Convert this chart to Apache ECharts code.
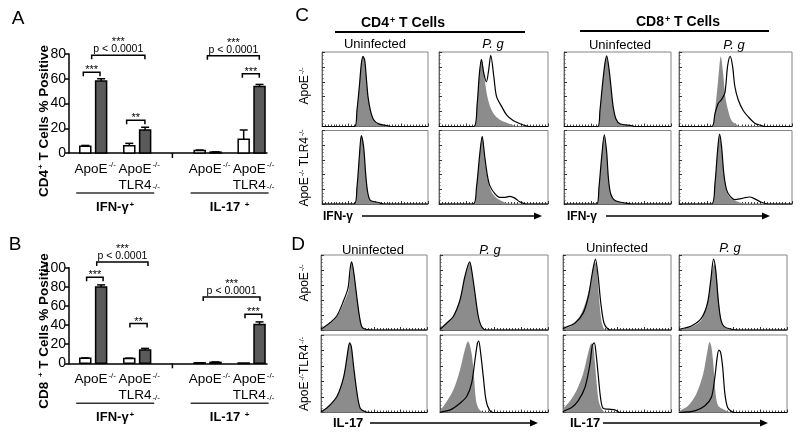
<!DOCTYPE html>
<html><head><meta charset="utf-8">
<script src="https://cdn.jsdelivr.net/npm/echarts@6/dist/echarts.min.js"></script>
<style>html,body{margin:0;padding:0;background:#fff}#c{width:800px;height:441px}</style>
</head><body><div id="c"></div>
<script>
// ================= DATA =================
// Bar charts (A: CD4+, B: CD8+), % positive; order: IFN ApoE, IFN ApoE/TLR4, IL17 ApoE, IL17 ApoE/TLR4
const barCategories = ['ApoE{sup|-/-}', 'ApoE{sup|-/-}\nTLR4{sub|-/-}', 'ApoE{sup|-/-}', 'ApoE{sup|-/-}\nTLR4{sub|-/-}'];
const cytokineGroups = ['IFN-γ{sup|+}', 'IL-17 {sup|+}'];
const cd4Uninfected    = [5.5, 5.8, 2.0, 11.2];
const cd4UninfectedErr = [0.6, 2.0, 0.4, 7.4];
const cd4Pg            = [58.1, 18.6, 0.7, 53.8];
const cd4PgErr         = [1.9, 2.2, 0.2, 1.6];
const cd8Uninfected    = [5.2, 5.0, 0.5, 0.3];
const cd8UninfectedErr = [0.5, 0.4, 0.1, 0.0];
const cd8Pg            = [79.8, 13.9, 1.0, 40.6];
const cd8PgErr         = [2.2, 1.7, 0.4, 2.7];
const yTicksA = [0, 20, 40, 60, 80];
const yTicksB = [0, 20, 40, 60, 80, 100];
// significance brackets: [x1, x2, y] in axis units, with labels
const bracketsA = [[0.65, 1.41, 65.3], [1.03, 3.45, 78.9], [2.62, 3.45, 26.5], [6.29, 8.65, 78.6], [7.88, 8.65, 64.0]];
const bracketLabelsA = [['***'], ['***', 'p < 0.0001'], ['**'], ['***', 'p < 0.0001'], ['***']];
const bracketsB = [[0.80, 1.55, 90.0], [1.26, 3.59, 106.0], [2.77, 3.55, 41.6], [6.10, 8.68, 69.4], [8.00, 8.76, 51.4]];
const bracketLabelsB = [['***'], ['***', 'p < 0.0001'], ['**'], ['***', 'p < 0.0001'], ['***']];

// Histograms: [channel position %, count %]; fill = grey control, line = black open curve
// C: IFN-γ
const cCD4ApoUninfFill = [[0,0],[30.8,0],[33,22],[35.5,58],[37.1,84],[38.7,94],[40.3,89],[42,62],[43.4,40],[45.6,22],[48.7,9],[53.5,3.5],[61,1.3],[64.5,0],[100,0]];
const cCD4ApoUninfLine = [[0,0],[30.8,0],[33,22],[35.5,58],[37.1,84],[38.7,94],[40.3,89],[42,62],[43.4,40],[45.6,22],[48.7,9],[53.5,3.5],[61,1.3],[64.5,0],[100,0]];
const cCD4ApoPgFill = [[0,0],[31.9,0],[35,30],[37,70],[38.9,91],[40.5,80],[42,62],[45,36],[49.7,18],[55.8,9],[65,3.5],[74,0],[100,0]];
const cCD4ApoPgLine = [[0,0],[31.9,0],[35,30],[37,70],[38.9,90],[41,72],[43.5,60],[45.5,75],[47.5,95.5],[50.3,67],[52.8,40],[57.4,27],[62,15.5],[68,8],[77.3,2],[83,0],[100,0]];
const cCD4TlrUninfFill = [[0,0],[30.5,0],[33,23],[35.2,64],[37.1,93],[39.3,77],[41.2,41],[43,17],[45.6,5],[53.5,2],[58,0],[100,0]];
const cCD4TlrUninfLine = [[0,0],[30.5,0],[33,23],[35.2,64],[37.1,93],[39.3,77],[41.2,41],[43,17],[45.6,5],[53.5,2],[58,0],[100,0]];
const cCD4TlrPgFill = [[0,0],[31.3,0],[34.4,23],[37.4,68],[39.6,92],[42,64],[45,32],[48,17],[52.8,8],[59,3],[65,0],[100,0]];
const cCD4TlrPgLine = [[0,0],[31.3,0],[34.4,23],[37.4,68],[39.6,92],[42,64],[44.5,38],[46.6,25],[51.2,14],[55.8,9],[60,9],[65,10.5],[69.6,8],[74,3],[80,0],[100,0]];
const cCD8ApoUninfFill = [[0,0],[31.5,0],[33.6,21.5],[35.8,54],[38.3,85],[39.9,95],[42,78],[44,52],[46,26],[48.6,10],[52.3,3.6],[63,1.3],[66,0],[100,0]];
const cCD8ApoUninfLine = [[0,0],[31.5,0],[33.6,21.5],[35.8,54],[38.3,85],[39.9,95],[42,78],[44,52],[46,26],[48.6,10],[52.3,3.6],[63,1.3],[66,0],[100,0]];
const cCD8ApoPgFill = [[0,0],[28.8,0],[31.8,21.5],[34.7,63],[37,94],[39,72],[41,39.5],[43.5,21.5],[46.5,8],[51,2.7],[55,0],[100,0]];
const cCD8ApoPgLine = [[0,0],[28.8,0],[31.8,17],[34.7,31],[37.6,36],[40.6,45],[43,81],[45.3,94],[47.4,81],[49.4,54],[52.4,36],[56.8,21.5],[61,13.5],[67,4.5],[73,1.3],[76,0],[100,0]];
const cCD8TlrUninfFill = [[0,0],[30.5,0],[32.7,23],[35.2,64],[37.7,94],[39.9,70],[41.4,37],[43.6,14],[47.7,4.6],[57,1.4],[63,0],[100,0]];
const cCD8TlrUninfLine = [[0,0],[30.5,0],[32.7,23],[35.2,64],[37.7,94],[39.9,70],[41.4,37],[43.6,14],[47.7,4.6],[57,1.4],[63,0],[100,0]];
const cCD8TlrPgFill = [[0,0],[28.8,0],[31.8,27.5],[34,70],[35.9,95],[37.6,79],[39.7,41],[42,18],[45,9],[49.4,4.6],[55.3,1.4],[61,0],[100,0]];
const cCD8TlrPgLine = [[0,0],[28.8,0],[31.8,27.5],[34,70],[35.9,95],[37.6,79],[39.7,41],[42,20],[45,11],[49.4,6],[54,7],[58,8.5],[62.6,9.5],[67,7],[73,2.3],[79,0],[100,0]];
// D: IL-17
const dCD4ApoUninfFill = [[0,1],[1,1.5],[8.8,9],[15,18],[21.4,36],[26,53],[28,80],[29,90],[30.8,80],[34,44],[36.5,18],[38.7,4.4],[41.8,1],[50,0],[100,0]];
const dCD4ApoUninfLine = [[0,1],[1,2],[8.8,10],[15,19],[21,38],[25.5,56],[27.5,82],[28.8,91],[30.6,80],[33.8,44],[36.3,18],[38.5,4.4],[41.8,1],[50,0],[100,0]];
const dCD4ApoPgFill = [[0,1],[1,2],[6,9],[12.3,18],[18.5,40],[23,71],[27.5,91],[29.3,80],[32.4,49],[35.5,18],[38.6,4.4],[43,0],[100,0]];
const dCD4ApoPgLine = [[0,1],[1,2],[6,9],[12.3,18],[18.5,40],[23,71],[27.5,91],[29.3,80],[32.4,49],[35.5,18],[38.6,4.4],[43,0],[100,0]];
const dCD4TlrUninfFill = [[0,1],[1,1.5],[7,7.7],[15,20.6],[21.4,46],[25,76],[27,90],[28.6,85],[30.8,59],[34,25],[37,5.6],[41.8,1],[46.5,0],[100,0]];
const dCD4TlrUninfLine = [[0,1],[1,1.5],[7,7.7],[15,20.6],[21.4,46],[25,76],[27,90],[28.6,85],[30.8,59],[34,25],[37,5.6],[41.8,1],[46.5,0],[100,0]];
const dCD4TlrPgFill = [[0,2],[0.6,3.4],[6,14],[12.3,29],[18.5,55],[23,81],[26,92],[29.3,76],[31.5,46],[33.3,16],[35.5,5.6],[38.6,1.3],[41.7,0],[100,0]];
const dCD4TlrPgLine = [[0,0],[0.6,0.5],[9.6,3.4],[18.5,12],[24.7,20.6],[29.3,38],[32.4,68],[34.6,89],[35.8,92],[37.7,76],[40.1,46],[42.6,16],[45.7,3.4],[49.4,0],[100,0]];
const dCD8ApoUninfFill = [[0,1],[1,2],[7.7,5.4],[15.5,18],[21.7,40.5],[26.3,67.6],[29.4,91],[31,85.6],[33,50],[35,18],[37,4.5],[40,0],[100,0]];
const dCD8ApoUninfLine = [[0,1],[1,2.5],[10.8,9],[18.6,22.5],[23.5,45],[27.2,76.6],[30,94.6],[32.5,72],[35,36],[38,9],[41.8,1],[45,0],[100,0]];
const dCD8ApoPgFill = [[0,0.5],[0.6,1],[11.5,4.5],[20.8,13.5],[27,40.5],[30,72],[32.6,88],[34.8,74],[37,36],[39.4,11],[42.5,3.6],[47,1.8],[52,0],[100,0]];
const dCD8ApoPgLine = [[0,0.5],[0.6,1],[11.5,5.4],[20.8,15.8],[26.4,36],[29.5,67.6],[32,94.6],[33.9,81],[36.3,40.5],[38.8,13.5],[41.9,4.5],[48.8,1],[55,0],[100,0]];
const dCD8TlrUninfFill = [[0,4],[1,6.5],[6.5,15],[12.4,28],[18.6,50],[23.2,76],[26.3,89],[28,87],[29.4,67],[31,41],[33,15],[36,4.3],[40,0],[100,0]];
const dCD8TlrUninfLine = [[0,1],[1,2],[8,6.5],[14,15],[20.4,32.6],[25,63],[27.2,87],[29,90],[30.3,80],[32.5,50],[34.7,19.6],[37,5.6],[41.8,4.3],[48,3.5],[52.6,0],[100,0]];
const dCD8TlrPgFill = [[0,1],[0.6,2],[8.4,8.7],[16,24],[22.4,50],[26.4,80.4],[28.3,91],[30,85],[32,59],[33.9,24],[36.3,8.7],[41,4.3],[45.6,1.3],[48.8,0],[100,0]];
const dCD8TlrPgLine = [[0,0],[0.6,0],[14.6,2],[24,8.7],[30,19.6],[33.2,45.6],[35.4,71.7],[36.9,80.4],[38.5,78],[40.4,59],[42.5,24],[45,6.5],[48.8,1.3],[52,0],[100,0]];

// ================= LAYOUT =================
const FONT = '"Liberation Sans", Arial, sans-serif';
const groupPos = [1.1, 3.1, 6.3, 8.3];   // x-axis positions of the 4 bar pairs
const OFF = 0.36, BW = 0.5;                 // bar offset and width (axis units)
const cCols = [[322, 428], [439, 548], [564, 671], [679, 792]];
const cRows = [[52, 126.5], [130.5, 204]];
const dCols = [[321, 427], [440, 548], [563, 671], [679, 787]];
const dRows = [[255, 330], [335, 412.5]];

function richDefs(size, bold) {
  const fw = bold ? 'bold' : 'normal';
  const s = Math.round(size * 0.62);
  return {
    sup: {fontSize: s, fontFamily: FONT, fill: '#000', fontWeight: fw, verticalAlign: 'top', padding: [0, 0, 0, 1]},
    sub: {fontSize: s, fontFamily: FONT, fill: '#000', fontWeight: fw, verticalAlign: 'bottom', padding: [0, 0, 2, 1]}
  };
}

const grids = [], xAxes = [], yAxes = [], series = [];

function barChart(idx, rect, yTicks, uVals, uErr, pVals, pErr, brackets, bLabels) {
  grids.push({left: rect[0], top: rect[1], width: rect[2], height: rect[3], outerBoundsMode: 'none', containLabel: false});
  xAxes.push({gridIndex: idx, type: 'value', min: 0, max: 9, axisLine: {show: true, lineStyle: {color: '#000', width: 1.5}},
    axisTick: {show: false}, axisLabel: {show: false}, splitLine: {show: false}});
  yAxes.push({gridIndex: idx, type: 'value', min: yTicks[0], max: yTicks[yTicks.length - 1], interval: yTicks[1] - yTicks[0],
    axisLine: {show: true, lineStyle: {color: '#000', width: 1.5}},
    axisTick: {show: true, length: 4, lineStyle: {color: '#000', width: 1.5}},
    axisLabel: {fontSize: 14, color: '#000', fontFamily: FONT, margin: 3}, splitLine: {show: false}});
  const bar = (vals, errs, side, fill) => ({
    type: 'custom', xAxisIndex: idx, yAxisIndex: idx, clip: false, silent: true,
    data: vals.map((v, i) => [groupPos[i] + side * OFF, v, errs[i]]),
    renderItem(params, api) {
      const x = api.value(0), v = api.value(1), e = api.value(2);
      const tl = api.coord([x - BW / 2, v]), br = api.coord([x + BW / 2, 0]);
      const top = api.coord([x, v + e]);
      const ch = [{type: 'rect', shape: {x: tl[0], y: tl[1], width: br[0] - tl[0], height: Math.max(br[1] - tl[1], 0.5)},
        style: {fill: fill, stroke: '#000', lineWidth: 1.5}}];
      if (e > 0) {
        ch.push({type: 'line', shape: {x1: top[0], y1: tl[1], x2: top[0], y2: top[1]}, style: {stroke: '#000', lineWidth: 1.5}});
        ch.push({type: 'line', shape: {x1: top[0] - 4, y1: top[1], x2: top[0] + 4, y2: top[1]}, style: {stroke: '#000', lineWidth: 1.5}});
      }
      return {type: 'group', children: ch};
    }
  });
  series.push(bar(uVals, uErr, -1, '#ffffff'));
  series.push(bar(pVals, pErr, 1, '#5a5a5a'));
  // category labels
  series.push({
    type: 'custom', xAxisIndex: idx, yAxisIndex: idx, clip: false, silent: true,
    data: groupPos.map((p, i) => [p, i]),
    renderItem(params, api) {
      const p = api.coord([api.value(0), 0]);
      return {type: 'text', x: p[0] + 2, y: p[1] + 8, style: {text: barCategories[api.value(1)], align: 'center', verticalAlign: 'top',
        fontSize: 13.5, lineHeight: 16, fontFamily: FONT, fill: '#000', rich: richDefs(13.5, false)}};
    }
  });
  // cytokine group underline + labels + middle tick
  series.push({
    type: 'custom', xAxisIndex: idx, yAxisIndex: idx, clip: false, silent: true,
    data: [[(groupPos[0] + groupPos[1]) / 2, 0], [(groupPos[2] + groupPos[3]) / 2, 1]],
    renderItem(params, api) {
      const p = api.coord([api.value(0), 0]);
      const k = api.value(1);
      const ch = [
        {type: 'line', shape: {x1: p[0] - 39, y1: p[1] + 40, x2: p[0] + 39, y2: p[1] + 40}, style: {stroke: '#333', lineWidth: 1.5}},
        {type: 'text', x: p[0], y: p[1] + 54, style: {text: cytokineGroups[k], align: 'center', verticalAlign: 'middle',
          fontSize: 13, fontWeight: 'bold', fontFamily: FONT, fill: '#000', rich: richDefs(13, true)}}
      ];
      if (k === 0) {
        const m = api.coord([(groupPos[1] + groupPos[2]) / 2, 0]);
        ch.push({type: 'line', shape: {x1: m[0], y1: m[1], x2: m[0], y2: m[1] + 5}, style: {stroke: '#000', lineWidth: 1.5}});
      }
      return {type: 'group', children: ch};
    }
  });
  // significance brackets
  series.push({
    type: 'custom', xAxisIndex: idx, yAxisIndex: idx, clip: false, silent: true,
    data: brackets.map((b, i) => [b[0], b[1], b[2], i]),
    renderItem(params, api) {
      const y = api.value(2);
      const p1 = api.coord([api.value(0), y]), p2 = api.coord([api.value(1), y]);
      const lab = bLabels[api.value(3)];
      const ch = [{type: 'polyline', shape: {points: [[p1[0], p1[1] + 4], [p1[0], p1[1]], [p2[0], p2[1]], [p2[0], p2[1] + 4]]},
        style: {stroke: '#000', lineWidth: 1.5, fill: null}}];
      const cx = (p1[0] + p2[0]) / 2;
      if (lab.length === 1) {
        ch.push({type: 'text', x: cx, y: p1[1] - 2, style: {text: lab[0], align: 'center', verticalAlign: 'middle', fontSize: 11, fontFamily: FONT, fill: '#000'}});
      } else {
        ch.push({type: 'text', x: cx, y: p1[1] - 6, style: {text: lab[1], align: 'center', verticalAlign: 'middle', fontSize: 10.5, fontFamily: FONT, fill: '#000'}});
        ch.push({type: 'text', x: cx, y: p1[1] - 13, style: {text: lab[0], align: 'center', verticalAlign: 'middle', fontSize: 11, fontFamily: FONT, fill: '#000'}});
      }
      return {type: 'group', children: ch};
    }
  });
}

barChart(0, [69, 54, 198, 99], yTicksA, cd4Uninfected, cd4UninfectedErr, cd4Pg, cd4PgErr, bracketsA, bracketLabelsA);
barChart(1, [69, 267.7, 198, 95.6], yTicksB, cd8Uninfected, cd8UninfectedErr, cd8Pg, cd8PgErr, bracketsB, bracketLabelsB);

function histo(left, right, top, bottom, fill, line) {
  const idx = grids.length;
  grids.push({left: left, top: top, width: right - left, height: bottom - top, show: true, borderColor: '#858585', borderWidth: 1,
    backgroundColor: '#fff', outerBoundsMode: 'none', containLabel: false});
  xAxes.push({gridIndex: idx, type: 'value', min: 0, max: 100, interval: 25,
    axisLine: {show: true, onZero: false, lineStyle: {color: '#666', width: 1}},
    axisTick: {show: true, inside: true, length: 3, lineStyle: {color: '#333', width: 1}},
    minorTick: {show: true, splitNumber: 9, length: 2, lineStyle: {color: '#444', width: 1}},
    axisLabel: {show: false}, splitLine: {show: false}, minorSplitLine: {show: false}});
  yAxes.push({gridIndex: idx, type: 'value', min: 0, max: 100, interval: 20,
    axisLine: {show: true, onZero: false, lineStyle: {color: '#666', width: 1}},
    axisTick: {show: true, inside: true, length: 3, lineStyle: {color: '#333', width: 1}},
    minorTick: {show: true, splitNumber: 4, length: 1.5, lineStyle: {color: '#555', width: 1}},
    axisLabel: {show: false}, splitLine: {show: false}, minorSplitLine: {show: false}});
  series.push({type: 'line', xAxisIndex: idx, yAxisIndex: idx, data: fill, smooth: 0.3, symbol: 'none', silent: true,
    lineStyle: {width: 0, opacity: 0}, areaStyle: {color: '#8c8c8c', opacity: 1}, z: 2});
  series.push({type: 'line', xAxisIndex: idx, yAxisIndex: idx, data: line, smooth: 0.3, symbol: 'none', silent: true,
    lineStyle: {color: '#000', width: 1.2}, z: 3});
}

const cPanels = [
  [0, 0, cCD4ApoUninfFill, cCD4ApoUninfLine], [1, 0, cCD4ApoPgFill, cCD4ApoPgLine],
  [0, 1, cCD4TlrUninfFill, cCD4TlrUninfLine], [1, 1, cCD4TlrPgFill, cCD4TlrPgLine],
  [2, 0, cCD8ApoUninfFill, cCD8ApoUninfLine], [3, 0, cCD8ApoPgFill, cCD8ApoPgLine],
  [2, 1, cCD8TlrUninfFill, cCD8TlrUninfLine], [3, 1, cCD8TlrPgFill, cCD8TlrPgLine]
];
const dPanels = [
  [0, 0, dCD4ApoUninfFill, dCD4ApoUninfLine], [1, 0, dCD4ApoPgFill, dCD4ApoPgLine],
  [0, 1, dCD4TlrUninfFill, dCD4TlrUninfLine], [1, 1, dCD4TlrPgFill, dCD4TlrPgLine],
  [2, 0, dCD8ApoUninfFill, dCD8ApoUninfLine], [3, 0, dCD8ApoPgFill, dCD8ApoPgLine],
  [2, 1, dCD8TlrUninfFill, dCD8TlrUninfLine], [3, 1, dCD8TlrPgFill, dCD8TlrPgLine]
];
cPanels.forEach(p => histo(cCols[p[0]][0], cCols[p[0]][1], cRows[p[1]][0], cRows[p[1]][1], p[2], p[3]));
dPanels.forEach(p => histo(dCols[p[0]][0], dCols[p[0]][1], dRows[p[1]][0], dRows[p[1]][1], p[2], p[3]));

// ================= TEXT / DECORATION =================
function txt(x, y, text, opt) {
  opt = opt || {};
  const size = opt.size || 13;
  return {type: 'text', x: x, y: y, rotation: opt.rot || 0, silent: true, z: 100,
    style: {text: text, align: opt.align || 'center', verticalAlign: 'middle', fontSize: size, fontFamily: FONT,
      fontWeight: opt.bold ? 'bold' : 'normal', fontStyle: opt.italic ? 'italic' : 'normal', fill: '#000', rich: richDefs(size, opt.bold)}};
}
function hline(x1, x2, y, w) {
  return {type: 'line', silent: true, z: 100, shape: {x1: x1, y1: y, x2: x2, y2: y}, style: {stroke: '#000', lineWidth: w || 1.5}};
}
function arrow(x1, x2, y) {
  return [hline(x1, x2 - 6, y, 1.5),
    {type: 'polygon', silent: true, z: 100, shape: {points: [[x2 - 8, y - 3.5], [x2, y], [x2 - 8, y + 3.5]]}, style: {fill: '#000'}}];
}
const R = Math.PI / 2;
const graphics = [
  txt(18, 19, 'A', {size: 19}), txt(15, 245, 'B', {size: 19}), txt(302, 16, 'C', {size: 19}), txt(298, 245, 'D', {size: 19}),
  txt(44, 121, 'CD4{sup|+} T Cells % Positive', {bold: true, size: 13.5, rot: R}),
  txt(44, 331, 'CD8 {sup|+} T Cells % Positive', {bold: true, size: 13.5, rot: R}),
  txt(403, 23, 'CD4{sup|+} T Cells', {bold: true, size: 14}), hline(335, 525, 32, 1.8),
  txt(678, 22, 'CD8{sup|+} T Cells', {bold: true, size: 14}), hline(580, 769, 31, 1.8),
  txt(375, 44, 'Uninfected'), txt(493, 44, 'P. g', {italic: true}),
  txt(620, 45, 'Uninfected'), txt(734, 45, 'P. g', {italic: true}),
  txt(373, 250, 'Uninfected'), txt(490, 250, 'P. g', {italic: true}),
  txt(617, 248, 'Uninfected'), txt(730, 248, 'P. g', {italic: true}),
  txt(305, 86, 'ApoE{sup|-/-}', {size: 12, rot: R}),
  txt(305, 168, 'ApoE{sup|-/-} TLR4{sup|-/-}', {size: 12, rot: R}),
  txt(305, 283, 'ApoE{sup|-/-}', {size: 12, rot: R}),
  txt(305, 374, 'ApoE{sup|-/-}TLR4{sup|-/-}', {size: 12, rot: R}),
  txt(323, 217, 'IFN-γ', {bold: true, size: 12, align: 'left'}),
  txt(567, 217, 'IFN-γ', {bold: true, size: 12, align: 'left'}),
  txt(333, 423, 'IL-17', {bold: true, size: 13, align: 'left'}),
  txt(570, 423, 'IL-17', {bold: true, size: 13, align: 'left'})
].concat(arrow(362, 542, 216), arrow(606, 770, 216), arrow(370, 538, 423), arrow(603, 768, 423));

const chart = echarts.init(document.getElementById('c'), null, {renderer: 'canvas'});
chart.setOption({
  animation: false,
  backgroundColor: '#fff',
  grid: grids, xAxis: xAxes, yAxis: yAxes, series: series,
  graphic: {elements: graphics}
});
</script></body></html>
